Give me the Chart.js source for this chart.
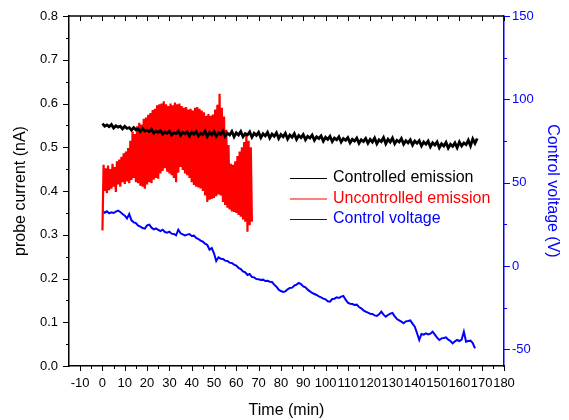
<!DOCTYPE html>
<html>
<head>
<meta charset="utf-8">
<script src="https://cdn.jsdelivr.net/npm/chart.js@4.4.1/dist/chart.umd.min.js"></script>
<style>
html,body{margin:0;padding:0;background:#fff;}
canvas{display:block;}
</style>
</head>
<body>
<canvas id="c" width="569" height="420"></canvas>
<script>
// ---- Data ----
const xTickValues = [-10,0,10,20,30,40,50,60,70,80,90,100,110,120,130,140,150,160,170,180];
const leftTickValues = [0,0.1,0.2,0.3,0.4,0.5,0.6,0.7,0.8];
const rightTickValues = [-50,0,50,100,150];

const seriesLabels = ['Controlled emission','Uncontrolled emission','Control voltage'];

// Controlled emission (nA), one sample per minute from t = 0
const controlledStep = 1;
const controlledEmission = [
 0.554,0.548,0.551,0.547,0.552,0.544,0.549,0.546,0.548,0.542,
 0.548,0.543,0.545,0.539,0.545,0.540,0.542,0.536,0.543,0.537,
 0.539,0.536,0.541,0.532,0.537,0.534,0.538,0.530,0.535,0.532,
 0.537,0.528,0.533,0.531,0.537,0.527,0.534,0.531,0.535,0.526,
 0.535,0.530,0.536,0.526,0.532,0.529,0.537,0.525,0.534,0.528,
 0.536,0.525,0.533,0.529,0.537,0.525,0.532,0.528,0.536,0.524,
 0.533,0.528,0.536,0.524,0.531,0.528,0.535,0.523,0.532,0.527,
 0.534,0.522,0.531,0.526,0.534,0.521,0.530,0.525,0.533,0.520,
 0.529,0.524,0.532,0.519,0.528,0.523,0.531,0.518,0.527,0.522,
 0.529,0.517,0.525,0.521,0.528,0.516,0.524,0.520,0.526,0.514,
 0.523,0.518,0.525,0.513,0.521,0.517,0.524,0.512,0.520,0.516,
 0.522,0.510,0.518,0.514,0.521,0.509,0.517,0.513,0.520,0.509,
 0.518,0.512,0.521,0.508,0.517,0.513,0.522,0.508,0.518,0.512,
 0.521,0.508,0.516,0.512,0.520,0.507,0.515,0.510,0.517,0.505,
 0.514,0.509,0.515,0.503,0.512,0.507,0.514,0.501,0.510,0.505,
 0.512,0.499,0.508,0.503,0.511,0.498,0.507,0.502,0.510,0.499,
 0.512,0.503,0.510,0.506,0.516,0.503,0.519,0.509,0.520
];

// Uncontrolled emission (nA), one sample per half minute from t = 0
const uncontrolledStep = 0.5;
const uncontrolledEmission = [
 0.31,0.46,0.40,0.452,0.395,0.458,0.402,0.45,0.405,0.462,
 0.41,0.455,0.398,0.468,0.415,0.472,0.41,0.478,0.42,0.486,
 0.416,0.49,0.422,0.498,0.418,0.515,0.425,0.536,0.43,0.53,
 0.42,0.548,0.418,0.556,0.412,0.552,0.41,0.565,0.405,0.568,
 0.415,0.574,0.42,0.578,0.418,0.585,0.426,0.588,0.43,0.596,
 0.428,0.598,0.44,0.60,0.446,0.605,0.452,0.598,0.444,0.594,
 0.44,0.60,0.436,0.596,0.43,0.602,0.42,0.598,0.442,0.60,
 0.455,0.594,0.448,0.59,0.44,0.592,0.436,0.586,0.43,0.588,
 0.42,0.584,0.414,0.59,0.41,0.592,0.408,0.588,0.406,0.584,
 0.40,0.58,0.39,0.572,0.375,0.576,0.38,0.572,0.382,0.575,
 0.384,0.586,0.388,0.597,0.392,0.622,0.39,0.59,0.375,0.57,
 0.368,0.54,0.362,0.505,0.358,0.462,0.353,0.46,0.352,0.468,
 0.35,0.48,0.345,0.49,0.341,0.50,0.335,0.512,0.33,0.528,
 0.307,0.515,0.322,0.50,0.33
];

// Control voltage (V), one sample per minute from t = 0
const voltageStep = 1;
const controlVoltage = [
 33.2,32.0,32.8,31.6,32.2,31.8,32.6,33.2,32.4,31.2,
 30.2,28.6,31.2,27.4,26.2,25.8,24.2,23.6,22.8,22.4,
 24.4,24.8,23.0,22.0,22.6,21.6,21.0,21.8,20.4,20.0,
 20.6,19.4,19.2,18.4,21.8,19.6,19.0,18.4,18.8,19.2,
 18.0,18.2,16.8,16.2,15.2,14.6,13.4,12.6,9.8,10.8,
 7.6,3.0,5.2,4.4,4.2,3.2,3.0,2.0,1.8,0.8,
 0.2,-1.2,-1.8,-3.2,-3.8,-5.4,-4.8,-6.6,-6.8,-7.8,
 -8.0,-8.4,-8.2,-9.0,-8.8,-9.4,-9.6,-11.2,-12.4,-14.2,
 -15.0,-15.6,-15.2,-14.0,-13.2,-13.0,-11.8,-11.2,-10.2,-10.8,
 -12.2,-12.8,-14.2,-15.2,-16.2,-16.8,-17.4,-18.2,-18.8,-19.6,
 -20.0,-21.2,-21.4,-19.8,-19.6,-18.8,-19.2,-18.4,-18.0,-20.2,
 -22.0,-22.6,-22.8,-23.4,-23.2,-24.6,-25.4,-26.6,-27.4,-28.0,
 -28.6,-28.8,-29.6,-30.0,-29.0,-27.4,-29.2,-30.4,-29.4,-28.6,
 -28.2,-30.2,-31.8,-32.6,-33.4,-34.4,-33.2,-33.0,-32.6,-34.6,
 -36.4,-40.2,-44.4,-40.8,-41.2,-40.4,-41.0,-40.6,-39.4,-41.2,
 -43.0,-44.4,-43.4,-43.2,-42.8,-44.2,-45.0,-46.4,-45.2,-44.4,
 -45.0,-44.2,-39.4,-45.4,-45.0,-44.8,-46.2,-49.4
];

// ---- Build Chart.js data ----
const toXY = (arr, step) => arr.map((v, i) => ({x: i * step, y: v}));

const FONT = "'Liberation Sans', Arial, sans-serif";
const BLUE = '#0000ff';

const tickMarks = {
  id: 'tickMarks',
  afterDraw(chart) {
    const {ctx, chartArea: {left, right, top, bottom}, scales} = chart;
    const x = scales.x, y = scales.y, y1 = scales.y1;
    ctx.save();
    ctx.lineWidth = 1;
    ctx.strokeStyle = '#000';
    const seg = (x0, y0, x1, y1_) => { ctx.beginPath(); ctx.moveTo(x0, y0); ctx.lineTo(x1, y1_); ctx.stroke(); };
    ctx.lineWidth = 1.5;
    seg(left, top, right, top);
    ctx.lineWidth = 1;
    xTickValues.forEach(v => {
      const px = Math.round(x.getPixelForValue(v)) + 0.5;
      seg(px, bottom, px, bottom + 5);
      seg(px, top, px, top + 5);
      const m = v - 5;
      if (m > x.min) {
        const pm = Math.round(x.getPixelForValue(m)) + 0.5;
        seg(pm, bottom, pm, bottom + 3);
        seg(pm, top, pm, top + 3);
      }
    });
    leftTickValues.forEach(v => {
      const py = Math.round(y.getPixelForValue(v)) + 0.5;
      seg(left - 6, py, left, py);
      if (v < 0.8) {
        const pm = Math.round(y.getPixelForValue(v + 0.05)) + 0.5;
        seg(left - 3, pm, left, pm);
      }
    });
    ctx.strokeStyle = BLUE;
    rightTickValues.forEach(v => {
      const py = Math.round(y1.getPixelForValue(v)) + 0.5;
      seg(right, py, right + 6, py);
      if (v < 150) {
        const pm = Math.round(y1.getPixelForValue(v + 25)) + 0.5;
        seg(right, pm, right + 3, pm);
      }
    });
    ctx.restore();
  }
};

const legendPlugin = {
  id: 'insideLegend',
  afterDraw(chart) {
    const {ctx} = chart;
    ctx.save();
    ctx.font = '16px ' + FONT;
    ctx.textBaseline = 'middle';
    ctx.textAlign = 'left';
    chart.data.datasets.forEach((ds, i) => {
      const yy = 178 + i * 20.5;
      ctx.strokeStyle = ds.borderColor;
      ctx.lineWidth = 1;
      ctx.beginPath(); ctx.moveTo(290, yy + 0.5); ctx.lineTo(327, yy + 0.5); ctx.stroke();
      ctx.fillStyle = ds.borderColor;
      ctx.fillText(ds.label, 333, yy);
    });
    ctx.restore();
  }
};

new Chart(document.getElementById('c'), {
  type: 'line',
  data: {
    datasets: [
      {label: seriesLabels[0], data: toXY(controlledEmission, controlledStep), borderColor: '#000000', borderWidth: 2.8, pointRadius: 0, yAxisID: 'y', tension: 0},
      {label: seriesLabels[1], data: toXY(uncontrolledEmission, uncontrolledStep), borderColor: '#ff0000', borderWidth: 2.2, pointRadius: 0, yAxisID: 'y', tension: 0},
      {label: seriesLabels[2], data: toXY(controlVoltage, voltageStep), borderColor: BLUE, borderWidth: 2, pointRadius: 0, yAxisID: 'y1', tension: 0}
    ]
  },
  options: {
    responsive: false,
    animation: false,
    layout: {padding: {top: 16, left: 0, right: 0, bottom: 0}},
    plugins: {legend: {display: false}, tooltip: {enabled: false}},
    scales: {
      x: {
        type: 'linear', min: -15, max: 180,
        afterBuildTicks: s => { s.ticks = xTickValues.map(v => ({value: v})); },
        afterFit: s => { s.height = 54; },
        grid: {display: false, drawTicks: true, tickLength: 5},
        border: {display: true, color: '#000', width: 1.5},
        ticks: {autoSkip: false, maxRotation: 0, padding: 5, color: '#000', font: {family: FONT, size: 13}},
        title: {display: true, text: 'Time (min)', color: '#000', font: {family: FONT, size: 16}, padding: {top: 0, bottom: 0}}
      },
      y: {
        type: 'linear', position: 'left', min: 0, max: 0.8,
        afterBuildTicks: s => { s.ticks = leftTickValues.map(v => ({value: v})); },
        afterFit: s => { s.width = 69; },
        grid: {display: false, drawTicks: true, tickLength: 6},
        border: {display: true, color: '#000', width: 1.5},
        ticks: {padding: 5, color: '#000', font: {family: FONT, size: 13}, callback: v => Number(v).toFixed(1)},
        title: {display: true, text: 'probe current (nA)', color: '#000', font: {family: FONT, size: 16}, padding: {top: 11, bottom: 0}}
      },
      y1: {
        type: 'linear', position: 'right', min: -60, max: 150,
        afterBuildTicks: s => { s.ticks = rightTickValues.map(v => ({value: v})); },
        afterFit: s => { s.width = 65; },
        grid: {display: false, drawTicks: true, tickLength: 6},
        border: {display: true, color: BLUE, width: 1.5},
        ticks: {padding: 2, color: BLUE, font: {family: FONT, size: 13}},
        title: {display: true, text: 'Control voltage (V)', color: BLUE, font: {family: FONT, size: 16}, padding: {top: 7, bottom: 0}}
      }
    }
  },
  plugins: [tickMarks, legendPlugin]
});
</script>
</body>
</html>
